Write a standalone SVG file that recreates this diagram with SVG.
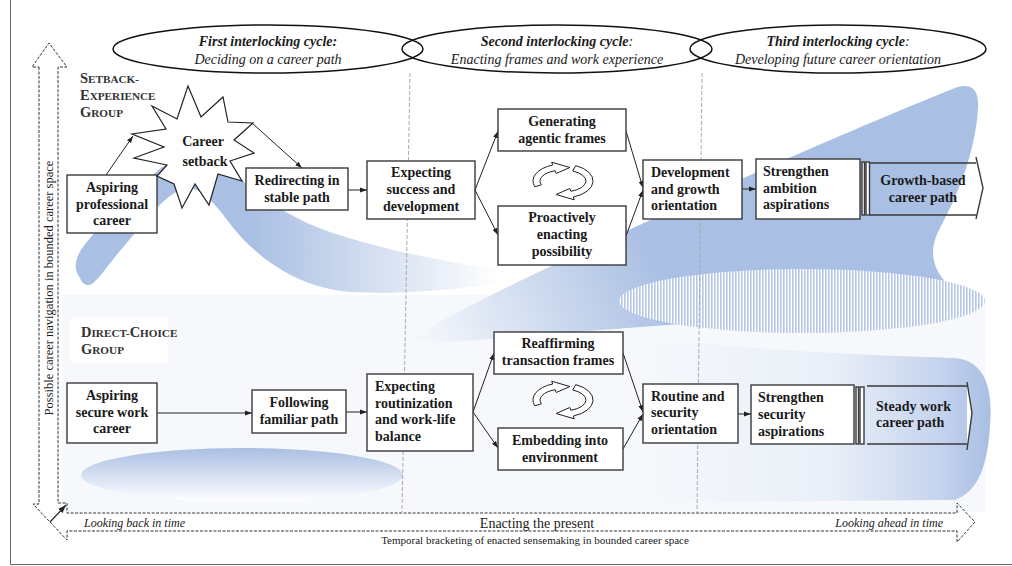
<svg xmlns="http://www.w3.org/2000/svg" width="1012" height="566" viewBox="0 0 1012 566">
<style>
.ser{font-family:"Liberation Serif","Times New Roman",serif;fill:#1a1a1a}
.nt{font-family:"Liberation Serif","Times New Roman",serif;font-weight:bold;font-size:14px;fill:#1a1a1a}
.mid{text-anchor:middle}
.box{fill:#fff;stroke:#3a3a3a;stroke-width:1.4}
.con{fill:none;stroke:#222;stroke-width:1;marker-end:url(#ah)}
.ax{fill:none;stroke:#333;stroke-width:1;stroke-dasharray:3 1.5}
.gd{fill:none;stroke:#aaa;stroke-width:1;stroke-dasharray:4 2}
.ell{fill:none;stroke:#111;stroke-width:1.5}
.cyc{fill:#fff;stroke:#222;stroke-width:1}
.grp{font-family:"Liberation Serif","Times New Roman",serif;font-weight:bold;fill:#333}
</style>
<defs>
<marker id="ah" viewBox="0 0 10 10" refX="10" refY="5" markerWidth="7" markerHeight="7" orient="auto"><path d="M0,1.5 L10,5 L0,8.5 Z" fill="#222"/></marker>
<linearGradient id="gTop" gradientUnits="userSpaceOnUse" x1="250" y1="0" x2="500" y2="0"><stop offset="0" stop-color="#a9bfe3"/><stop offset="1" stop-color="#ffffff"/></linearGradient>
<linearGradient id="gA" gradientUnits="userSpaceOnUse" x1="430" y1="345" x2="650" y2="245"><stop offset="0" stop-color="#f3f6fb"/><stop offset="1" stop-color="#a9bfe3"/></linearGradient>
<linearGradient id="gB" gradientUnits="userSpaceOnUse" x1="990" y1="0" x2="640" y2="0"><stop offset="0" stop-color="#a9bfe3"/><stop offset="0.15" stop-color="#c6d4ee"/><stop offset="0.45" stop-color="#e9eff8"/><stop offset="1" stop-color="#f6f8fc"/></linearGradient>
<linearGradient id="gC" gradientUnits="userSpaceOnUse" x1="0" y1="448" x2="0" y2="502"><stop offset="0" stop-color="#a9bfe3"/><stop offset="1" stop-color="#ffffff"/></linearGradient>
<pattern id="stripes" width="3" height="10" patternUnits="userSpaceOnUse"><rect width="3" height="10" fill="#fff"/><rect width="1.6" height="10" fill="#b5c6e8"/></pattern>
<g id="cycle">
<path class="cyc" d="M534.8,186.8 A30 17 0 0 1 552.7,165 L551.7,162.2 L569.9,167.5 L556.2,173.5 L555.1,170.7 A23 11 0 0 0 541.4,184.8 Z"/>
<path class="cyc" d="M575.7,165.6 A30 17 0 0 1 573.3,197 L574.3,199.8 L556.1,194.5 L569.8,188.5 L570.9,191.3 A23 11 0 0 0 572.7,171 Z"/>
</g>
</defs>

<g id="frame">
<line x1="10.5" y1="0" x2="10.5" y2="564.5" stroke="#666" stroke-width="1"/>
<line x1="10.5" y1="564.5" x2="1012" y2="564.5" stroke="#666" stroke-width="1"/>
</g>

<g id="background">
<rect x="62" y="295" width="923" height="217" fill="#f6f8fc"/>
<path fill="url(#gTop)" d="M80,278 C72,268 76,255 86,243 C112,212 150,172 178,157 C198,148 215,152 232,170 C255,195 290,218 330,232 C390,252 450,262 500,270 C505,276 498,284 480,286 C430,292 390,294 350,292 C300,288 260,260 235,230 C218,208 205,190 190,188 C170,188 150,215 125,245 C110,262 100,278 92,284 C86,287 82,283 80,278 Z"/>
<path fill="url(#gA)" d="M410,340 C450,315 500,290 560,262 C680,205 850,130 955,88 C972,82 979,90 978,108 C976,150 958,195 940,228 C928,250 932,268 948,285 L950,300 C850,312 700,322 600,330 C500,338 440,345 410,340 Z"/>
<path fill="url(#gB)" d="M415,348 C520,335 640,338 720,345 C820,354 900,356 955,358 C985,361 993,388 990,425 C988,465 978,492 955,500 L650,502 C560,480 470,410 415,348 Z"/>
<ellipse cx="802" cy="301" rx="183" ry="32" fill="url(#stripes)"/>
<ellipse cx="242" cy="475" rx="161" ry="27" fill="url(#gC)"/>
<rect x="70" y="318" width="98" height="44" fill="#fff"/>
</g>

<g id="guides">
<line class="gd" x1="410" y1="73" x2="402" y2="512"/>
<line class="gd" x1="702" y1="73" x2="697" y2="512"/>
</g>

<g id="cycles-header">
<ellipse class="ell" cx="268" cy="49" rx="155" ry="24"/>
<ellipse class="ell" cx="557" cy="49" rx="155" ry="24"/>
<ellipse class="ell" cx="838" cy="49" rx="148" ry="24"/>
<text class="ser mid" x="268" y="46" font-size="14" font-weight="bold" font-style="italic">First interlocking cycle:</text>
<text class="ser mid" x="268" y="64" font-size="14" font-style="italic">Deciding on a career path</text>
<text class="ser mid" x="557" y="46" font-size="14" font-weight="bold" font-style="italic">Second interlocking cycle<tspan font-weight="normal">:</tspan></text>
<text class="ser mid" x="557" y="64" font-size="14" font-style="italic">Enacting frames and work experience</text>
<text class="ser mid" x="838" y="46" font-size="14" font-weight="bold" font-style="italic">Third interlocking cycle<tspan font-weight="normal">:</tspan></text>
<text class="ser mid" x="838" y="64" font-size="14" font-style="italic">Developing future career orientation</text>
</g>

<g id="axes">
<path class="ax" d="M39,67 V504 H33 L67,540 V531 H957 V542 L975,522 L957,503 V513 H67 V503 H58 V67 H67 L49,43 L32,67 Z"/>
<line x1="50" y1="522" x2="66" y2="505" stroke="#222" stroke-width="1.2" marker-end="url(#ah)"/>
<text class="ser mid" transform="translate(53,288) rotate(-90)" font-size="12.5">Possible career navigation in bounded career space</text>
<text class="ser" x="84" y="527" font-size="12" font-style="italic">Looking back in time</text>
<text class="ser mid" x="537" y="528" font-size="14">Enacting the present</text>
<text class="ser" x="943" y="527" font-size="12" font-style="italic" text-anchor="end">Looking ahead in time</text>
<text class="ser mid" x="535" y="544" font-size="11">Temporal bracketing of enacted sensemaking in bounded career space</text>
</g>

<g id="label-setback">
<text class="grp" x="80" y="83" font-size="14.5">S<tspan font-size="11.2">ETBACK-</tspan></text>
<text class="grp" x="80" y="100" font-size="14.5">E<tspan font-size="11.2">XPERIENCE</tspan></text>
<text class="grp" x="80" y="117" font-size="14.5">G<tspan font-size="11.2">ROUP</tspan></text>
</g>
<g id="label-direct">
<text class="grp" x="81" y="337" font-size="14.5">D<tspan font-size="11.2">IRECT-</tspan>C<tspan font-size="11.2">HOICE</tspan></text>
<text class="grp" x="81" y="354" font-size="14.5">G<tspan font-size="11.2">ROUP</tspan></text>
</g>

<g id="connectors">
<line class="con" x1="106" y1="175" x2="133" y2="136"/>
<line class="con" x1="252" y1="123" x2="302" y2="168"/>
<line class="con" x1="348" y1="190" x2="367" y2="190"/>
<line class="con" x1="475" y1="190" x2="498" y2="131"/>
<line class="con" x1="475" y1="190" x2="498" y2="235"/>
<line class="con" x1="626" y1="131" x2="643" y2="188"/>
<line class="con" x1="626" y1="236" x2="643" y2="190"/>
<line class="con" x1="742" y1="189" x2="756" y2="189"/>
<line class="con" x1="157" y1="413" x2="252" y2="413"/>
<line class="con" x1="346" y1="412" x2="367" y2="412"/>
<line class="con" x1="473" y1="412" x2="494" y2="353"/>
<line class="con" x1="473" y1="412" x2="498" y2="448"/>
<line class="con" x1="623" y1="353" x2="643" y2="412"/>
<line class="con" x1="623" y1="449" x2="643" y2="414"/>
<line class="con" x1="738" y1="414" x2="751" y2="414"/>
</g>

<g id="n-aspiring-professional">
<rect class="box" x="67" y="175" width="90" height="58"/>
<text class="nt mid" x="112" y="192">Aspiring</text>
<text class="nt mid" x="112" y="208.5">professional</text>
<text class="nt mid" x="112" y="225">career</text>
</g>
<g id="n-career-setback">
<polygon fill="#fff" stroke="#222" stroke-width="1.2" points="188,86 201,117 223,97 228,122 253,123 234,140 254,153 230,161 242,181 218,174 209,205 195,184 182,208 174,184 157,176 167,165 134,158 164,147 132,134 166,129 152,106 177,119"/>
<text class="nt mid" x="203" y="146" font-size="17">Career</text>
<text class="nt mid" x="205" y="166" font-size="17">setback</text>
</g>
<g id="n-redirecting">
<rect class="box" x="246" y="168" width="102" height="42"/>
<text class="nt mid" x="297" y="185">Redirecting in</text>
<text class="nt mid" x="297" y="202">stable path</text>
</g>
<g id="n-expecting-success">
<rect class="box" x="367" y="161" width="108" height="58"/>
<text class="nt mid" x="421" y="177">Expecting</text>
<text class="nt mid" x="421" y="194">success and</text>
<text class="nt mid" x="421" y="211">development</text>
</g>
<g id="n-generating">
<rect class="box" x="498" y="109" width="128" height="42"/>
<text class="nt mid" x="562" y="126">Generating</text>
<text class="nt mid" x="562" y="143">agentic frames</text>
</g>
<g id="n-cycle-top"><use href="#cycle"/></g>
<g id="n-proactively">
<rect class="box" x="498" y="206" width="128" height="59"/>
<text class="nt mid" x="562" y="222">Proactively</text>
<text class="nt mid" x="562" y="239">enacting</text>
<text class="nt mid" x="562" y="256">possibility</text>
</g>
<g id="n-development">
<rect class="box" x="643" y="160" width="99" height="59"/>
<text class="nt" x="651" y="177">Development</text>
<text class="nt" x="651" y="193.5">and growth</text>
<text class="nt" x="651" y="210">orientation</text>
</g>
<g id="n-strengthen-ambition">
<rect class="box" x="756" y="159" width="104" height="60"/>
<text class="nt" x="763" y="176">Strengthen</text>
<text class="nt" x="763" y="192.5">ambition</text>
<text class="nt" x="763" y="209">aspirations</text>
<rect class="box" x="862" y="162" width="2.5" height="53" stroke-width="1"/>
<rect class="box" x="866" y="162" width="3.5" height="53" stroke-width="1"/>
</g>
<g id="n-growth-path">
<path class="box" d="M870,163 H976 M976,157 L983,188 L976,219 M976,215 H870 Z"/>
<text class="nt mid" x="923" y="185">Growth-based</text>
<text class="nt mid" x="923" y="202">career path</text>
</g>

<g id="m-aspiring-secure">
<rect class="box" x="67" y="383" width="90" height="60"/>
<text class="nt mid" x="112" y="400">Aspiring</text>
<text class="nt mid" x="112" y="417">secure work</text>
<text class="nt mid" x="112" y="433">career</text>
</g>
<g id="m-following">
<rect class="box" x="252" y="390" width="94" height="43"/>
<text class="nt mid" x="299" y="407">Following</text>
<text class="nt mid" x="299" y="424">familiar path</text>
</g>
<g id="m-expecting-routinization">
<rect class="box" x="367" y="374" width="106" height="77"/>
<text class="nt" x="375" y="391">Expecting</text>
<text class="nt" x="375" y="407.5">routinization</text>
<text class="nt" x="375" y="424">and work-life</text>
<text class="nt" x="375" y="441">balance</text>
</g>
<g id="m-reaffirming">
<rect class="box" x="494" y="332" width="129" height="42"/>
<text class="nt mid" x="558" y="348">Reaffirming</text>
<text class="nt mid" x="558" y="365">transaction frames</text>
</g>
<g id="m-cycle-bottom"><use href="#cycle" transform="translate(0,219)"/></g>
<g id="m-embedding">
<rect class="box" x="498" y="428" width="125" height="42"/>
<text class="nt mid" x="560" y="445">Embedding into</text>
<text class="nt mid" x="560" y="462">environment</text>
</g>
<g id="m-routine">
<rect class="box" x="643" y="384" width="95" height="59"/>
<text class="nt" x="651" y="401">Routine and</text>
<text class="nt" x="651" y="417">security</text>
<text class="nt" x="651" y="434">orientation</text>
</g>
<g id="m-strengthen-security">
<rect class="box" x="751" y="385" width="103" height="59"/>
<text class="nt" x="758" y="402">Strengthen</text>
<text class="nt" x="758" y="419">security</text>
<text class="nt" x="758" y="436">aspirations</text>
<rect class="box" x="856" y="387" width="2.5" height="57" stroke-width="1"/>
<rect class="box" x="860" y="387" width="4" height="57" stroke-width="1"/>
</g>
<g id="m-steady-path">
<path class="box" d="M867,386 H967 M967,382 L972,413 L967,450 M967,444 H867 Z"/>
<text class="nt" x="876" y="411">Steady work</text>
<text class="nt" x="876" y="427">career path</text>
</g>
</svg>
